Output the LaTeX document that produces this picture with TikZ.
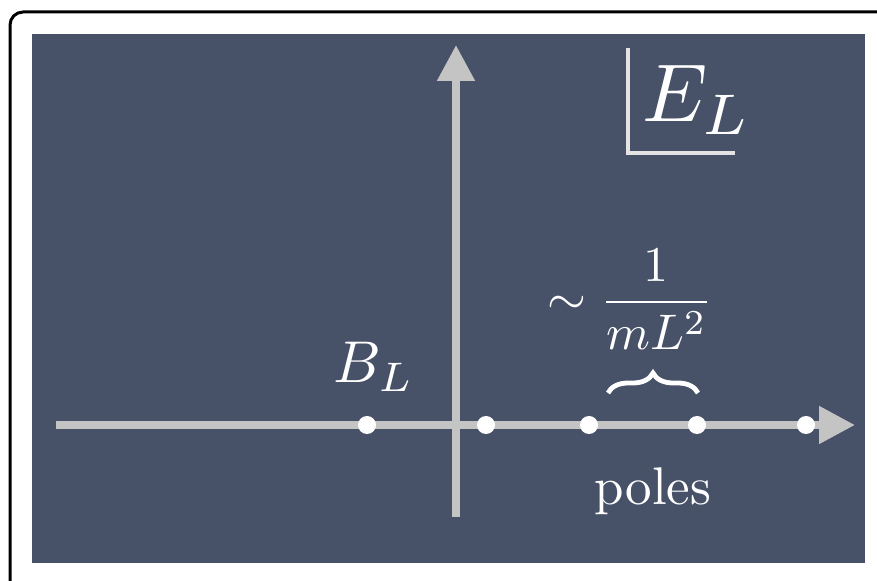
\documentclass[tikz,border=0pt]{standalone}
\usetikzlibrary{arrows.meta,decorations.pathreplacing}

\definecolor{panelblue}{RGB}{71,81,104}
\definecolor{axisgray}{RGB}{196,196,196}
\definecolor{cornergray}{RGB}{228,228,228}

\tikzset{
  axis/.style={draw=axisgray, line width=4pt, -{Triangle[length=18pt, width=18pt]}},
  pole/.style={circle, fill=white, inner sep=0pt, minimum size=9pt},
  label/.style={text=white, anchor=base, inner sep=0pt},
}

\begin{document}
\begin{tikzpicture}[x=0.5pt, y=-0.5pt]

\useasboundingbox (0,0) rectangle (877,581);
\clip (0,0) rectangle (877,581);

% Frame and panel
\draw[line width=1.5pt, rounded corners=6.5pt, fill=white] (10,12) rectangle (900,610);
\fill[panelblue] (32,34) rectangle (865,563);

% Axes
\coordinate (xstart) at (56,425);
\coordinate (xend)   at (855,425);
\coordinate (ystart) at (456,517);
\coordinate (yend)   at (456,45);
\draw[axis] (xstart) -- (xend);
\draw[axis] (ystart) -- (yend);

% Bound state and poles
\node[pole] (bound) at (367,425) {};
\node[pole] (pa) at (486,425) {};
\node[pole] (pb) at (589,425) {};
\node[pole] (pc) at (697,425) {};
\node[pole] (pd) at (806,425) {};

% Plane label
\coordinate (ctop)    at (628,48);
\coordinate (ccorner) at (628,153);
\coordinate (cright)  at (735,153);
\draw[cornergray, line width=2.3pt] (ctop) -- (ccorner) -- (cright);
\node[label, scale=4.1] (el) at (697,122) {$E_L$};

% Labels
\node[label, scale=2.95] (bl) at (374,383) {$B_L$};
\node[label, scale=2.5] (spacing) at (630,315) {$\displaystyle\sim\frac{1}{mL^2}$};
\node[label, scale=2.65] (poles) at (653,505) {poles};

% Brace
\coordinate (brl) at (608,393);
\coordinate (brr) at (698,393);
\draw[white, line width=2.4pt, decorate, decoration={brace, amplitude=10pt}] (brl) -- (brr);

\end{tikzpicture}
\end{document}
